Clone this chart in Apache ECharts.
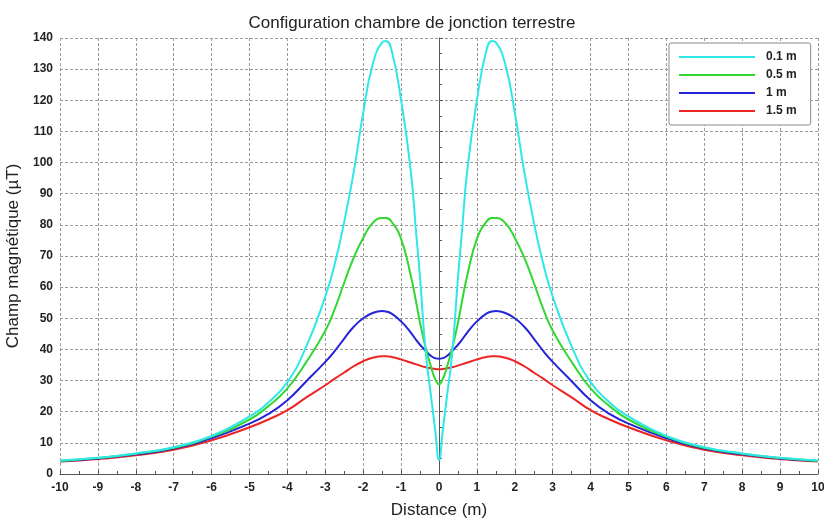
<!DOCTYPE html>
<html>
<head>
<meta charset="utf-8">
<script src="https://cdn.jsdelivr.net/npm/echarts@6/dist/echarts.min.js"></script>
<style>
  html, body { margin: 0; padding: 0; background: #fff; }
  #chart { width: 824px; height: 520px; }
</style>
</head>
<body>
<div id="chart"></div>
<script>
// distances (m)
const distances = [
  -10, -9, -8, -7, -6, -5, -4.5, -4, -3.5, -3, -2.75, -2.5, -2.25, -2, -1.75, -1.5, -1.4, -1.25, -1,
  -0.75, -0.6, -0.5, -0.35, -0.2, -0.1, 0,
  0.1, 0.2, 0.35, 0.5, 0.6, 0.75, 1, 1.25, 1.4, 1.5, 1.75, 2, 2.25, 2.5, 2.75, 3, 3.5, 4, 4.5, 5, 6, 7, 8, 9, 10
]

// champ magnétique (µT) par profondeur
const field01 = [
  4.3, 5.2, 6.6, 8.6, 12.2, 18.5, 23, 29.5, 41, 57, 67.5, 81, 97, 116, 131.5, 138.6, 139, 136, 120,
  98, 77, 63, 39, 24, 14, 4.5,
  14, 24, 39, 63, 77, 98, 120, 136, 139, 138.6, 131.5, 116, 97, 81, 67.5, 57, 41, 29.5, 23, 18.5, 12.2, 8.6, 6.6, 5.2, 4.3
]
const field05 = [
  4.2, 5.1, 6.5, 8.4, 12, 17.5, 21.8, 27.5, 36, 46, 53, 61.5, 69.5, 75.8, 80.6, 82.2, 82.2, 81, 75.5,
  64, 55, 48.5, 40.5, 34, 30.5, 28.8,
  30.5, 34, 40.5, 48.5, 55, 64, 75.5, 81, 82.2, 82.2, 80.6, 75.8, 69.5, 61.5, 53, 46, 36, 27.5, 21.8, 17.5, 12, 8.4, 6.5, 5.1, 4.2
]
const field1 = [
  4.2, 5, 6.3, 8.2, 11.5, 16.2, 19.3, 23.7, 29.8, 36, 39.5, 43.5, 47.3, 50, 51.7, 52.3, 52.2, 51.5, 49,
  45.5, 43, 41.5, 39.5, 37.8, 37.2, 37,
  37.2, 37.8, 39.5, 41.5, 43, 45.5, 49, 51.5, 52.2, 52.3, 51.7, 50, 47.3, 43.5, 39.5, 36, 29.8, 23.7, 19.3, 16.2, 11.5, 8.2, 6.3, 5, 4.2
]
const field15 = [
  4, 4.8, 6, 7.8, 10.8, 15, 17.5, 20.5, 24.6, 28.5, 30.6, 32.6, 34.6, 36.2, 37.3, 37.8, 37.8, 37.6, 36.8,
  35.8, 35.2, 34.8, 34.3, 33.9, 33.7, 33.6,
  33.7, 33.9, 34.3, 34.8, 35.2, 35.8, 36.8, 37.6, 37.8, 37.8, 37.3, 36.2, 34.6, 32.6, 30.6, 28.5, 24.6, 20.5, 17.5, 15, 10.8, 7.8, 6, 4.8, 4
]

const seriesNames = ['0.1 m', '0.5 m', '1 m', '1.5 m']
const seriesColors = ['#2ee8e8', '#33d633', '#2424d8', '#ec2424']
const seriesValues = [field01, field05, field1, field15]

const FONT = 'Liberation Sans, Arial, sans-serif'

const chart = echarts.init(document.getElementById('chart'))

const gridLine = {
  show: true,
  lineStyle: { color: '#9a9a9a', type: [3, 2], width: 1 },
}

chart.setOption({
  animation: false,
  backgroundColor: '#fff',
  title: {
    text: 'Configuration chambre de jonction terrestre',
    left: 'center',
    top: 10,
    textStyle: { fontFamily: FONT, fontSize: 17, fontWeight: 'normal', color: '#222' },
  },
  legend: {
    left: 669,
    top: 43,
    orient: 'vertical',
    icon: 'rect',
    itemWidth: 76,
    itemHeight: 2,
    itemGap: 0,
    padding: [5, 14, 5, 10],
    borderColor: '#8a8a8a',
    borderWidth: 1,
    borderRadius: 2,
    backgroundColor: '#fff',
    textStyle: {
      fontFamily: FONT, fontSize: 12, fontWeight: 'bold', color: '#222',
      lineHeight: 18, padding: [0, 0, 0, 6],
    },
    data: seriesNames,
  },
  grid: { left: 60, right: 6, top: 38, bottom: 46, outerBoundsMode: 'none', containLabel: false },
  xAxis: {
    type: 'value',
    min: -10,
    max: 10,
    interval: 1,
    name: 'Distance (m)',
    nameLocation: 'middle',
    nameGap: 28,
    nameTextStyle: { fontFamily: FONT, fontSize: 17, color: '#222' },
    axisLine: { onZero: false, lineStyle: { color: '#555' } },
    axisTick: { inside: true, length: 4, lineStyle: { color: '#555' } },
    minorTick: { show: true, splitNumber: 2, length: 3, lineStyle: { color: '#555' } },
    axisLabel: { fontFamily: FONT, fontSize: 12, fontWeight: 'bold', color: '#222', margin: 8 },
    splitLine: gridLine,
  },
  yAxis: {
    type: 'value',
    min: 0,
    max: 140,
    interval: 10,
    name: 'Champ magnétique (µT)',
    nameLocation: 'middle',
    nameGap: 32,
    nameTextStyle: { fontFamily: FONT, fontSize: 17, color: '#222' },
    axisLine: { show: true, lineStyle: { color: '#555' } },
    axisTick: { show: true, inside: true, length: 4, lineStyle: { color: '#555' } },
    minorTick: { show: true, splitNumber: 2, length: 3, lineStyle: { color: '#555' } },
    axisLabel: { fontFamily: FONT, fontSize: 12, fontWeight: 'bold', color: '#222', margin: 7 },
    splitLine: gridLine,
  },
  series: seriesNames.map((name, i) => ({
    name,
    type: 'line',
    data: distances.map((d, j) => [d, seriesValues[i][j]]),
    smooth: 0.5,
    showSymbol: false,
    color: seriesColors[i],
    lineStyle: { width: 2, color: seriesColors[i] },
    z: 10 - i,
  })),
})
</script>
</body>
</html>
